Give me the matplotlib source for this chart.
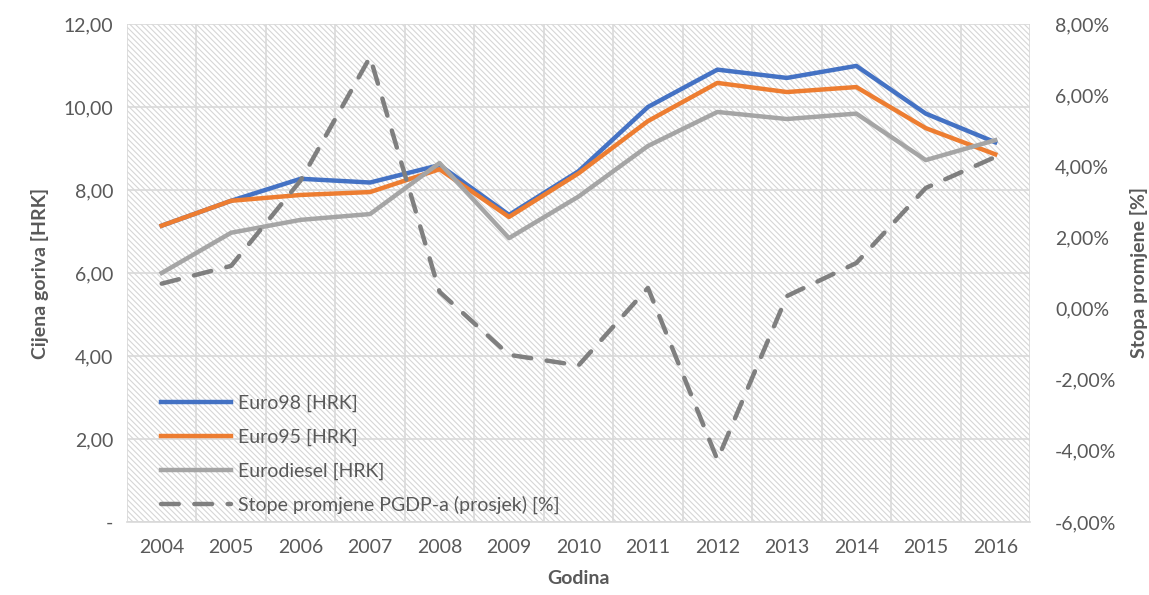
import matplotlib
matplotlib.use("Agg")
import matplotlib.pyplot as plt
from matplotlib.patches import Rectangle
from matplotlib.ticker import FuncFormatter

years = list(range(2004, 2017))
euro98 = [7.14, 7.74, 8.27, 8.18, 8.60, 7.40, 8.45, 10.00, 10.90, 10.70, 10.99, 9.84, 9.15]
euro95 = [7.14, 7.74, 7.88, 7.95, 8.50, 7.35, 8.40, 9.66, 10.58, 10.36, 10.48, 9.49, 8.86]
eurodiesel = [6.00, 6.97, 7.28, 7.42, 8.65, 6.84, 7.84, 9.06, 9.88, 9.71, 9.84, 8.72, 9.20]
pgdp = [0.70, 1.20, 3.60, 7.07, 0.47, -1.30, -1.60, 0.58, -4.25, 0.35, 1.28, 3.39, 4.26]

text_color = "#595959"
grid_color = "#d9d9d9"

plt.rcParams["font.family"] = ["Lato", "DejaVu Sans"]
plt.rcParams["hatch.linewidth"] = 0.8

fig = plt.figure(figsize=(11.49, 5.95), dpi=100)
ax = fig.add_axes([0.1105, 0.1227, 0.7859, 0.837])
ax2 = ax.twinx()

x = list(range(len(years)))

# hatched plot-area background
ax.add_patch(Rectangle((0, 0), 1, 1, transform=ax.transAxes, facecolor="white",
                       edgecolor="#d6d6d6", linewidth=0, hatch="\\\\\\\\\\\\", zorder=0))

ax.set_xlim(-0.5, len(years) - 0.5)
ax.set_ylim(0, 12)
ax2.set_ylim(-6, 8)

ax.set_xticks(x)
ax.set_xticklabels([str(y) for y in years])
ax.set_xticks([i - 0.5 for i in range(len(years) + 1)], minor=True)
ax.set_yticks(range(0, 13, 2))
ax2.set_yticks(range(-6, 9, 2))

ax.yaxis.set_major_formatter(FuncFormatter(lambda v, p: "-" if v == 0 else f"{v:.2f}".replace(".", ",")))
ax2.yaxis.set_major_formatter(FuncFormatter(lambda v, p: f"{v:.2f}%".replace(".", ",")))

ax.grid(axis="y", which="major", color=grid_color, linewidth=1.2, zorder=1)
ax.grid(axis="x", which="minor", color=grid_color, linewidth=1.2, zorder=1)
ax.set_axisbelow(True)

for a in (ax, ax2):
    for s in a.spines.values():
        s.set_visible(False)
    a.tick_params(axis="both", which="both", length=0, colors=text_color, labelsize=14)
ax.tick_params(axis="x", pad=12)
ax.tick_params(axis="y", pad=10)
ax2.tick_params(axis="y", pad=18)
ax.spines["bottom"].set_visible(True)
ax.spines["bottom"].set_color(grid_color)
ax.spines["bottom"].set_linewidth(1.2)

l1, = ax.plot(x, euro98, color="#4472c4", lw=3.2, label="Euro98 [HRK]", zorder=3)
l2, = ax.plot(x, euro95, color="#ed7d31", lw=3.2, label="Euro95 [HRK]", zorder=3)
l3, = ax.plot(x, eurodiesel, color="#a5a5a5", lw=3.2, label="Eurodiesel [HRK]", zorder=3)
l4, = ax2.plot(x, pgdp, color="#7f7f7f", lw=3.2, ls=(0, (4, 3.5)), dash_capstyle="round",
               label="Stope promjene PGDP-a (prosjek) [%]", zorder=3)

ax.set_xlabel("Godina", fontsize=14, fontweight="bold", color=text_color, labelpad=10)
ax.set_ylabel("Cijena goriva [HRK]", fontsize=14, fontweight="bold", color=text_color, labelpad=10)
ax2.set_ylabel("Stopa promjene [%]", fontsize=14, fontweight="bold", color=text_color, labelpad=10)

leg = ax.legend(handles=[l1, l2, l3, l4], loc="lower left", bbox_to_anchor=(0.018, -0.02),
                frameon=False, fontsize=14, labelcolor=text_color, handlelength=3.6,
                labelspacing=0.85, handletextpad=0.35)

fig.savefig("out.png", dpi=100)
